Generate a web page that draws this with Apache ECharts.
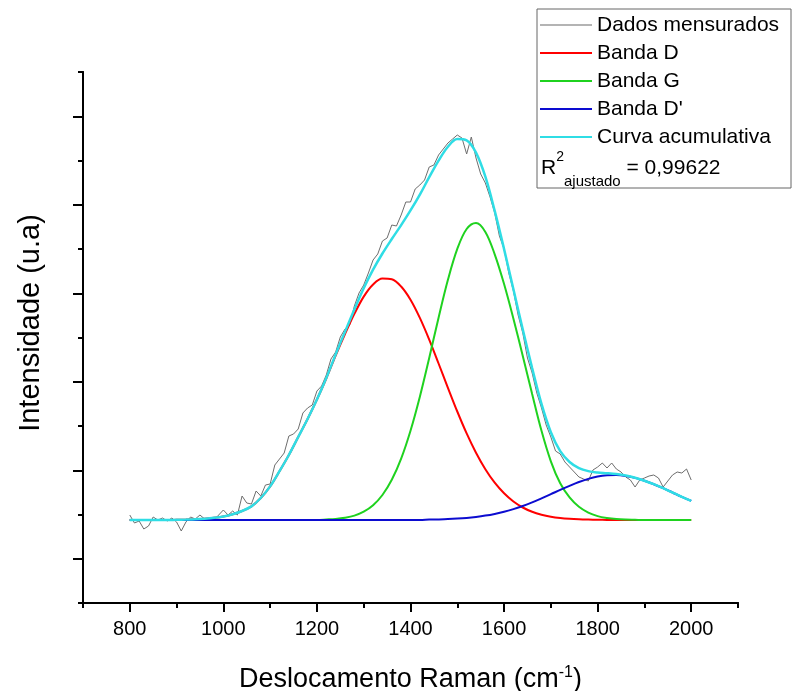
<!DOCTYPE html>
<html>
<head>
<meta charset="utf-8">
<script src="https://cdn.jsdelivr.net/npm/echarts@6/dist/echarts.min.js"></script>
<style>
html,body{margin:0;padding:0;background:#fff;}
#chart{width:794px;height:691px;}
</style>
</head>
<body>
<div id="chart"></div>
<script>
// Raman shift grid of the fitted bands (cm-1)
const bandShift = [800,820,840,860,880,900,920,940,960,980,1000,1020,1040,1060,1080,1100,1120,1140,1160,1180,1200,1220,1240,1260,1280,1300,1320,1340,1360,1380,1400,1420,1440,1460,1480,1500,1520,1540,1560,1580,1600,1620,1640,1660,1680,1700,1720,1740,1760,1780,1800,1820,1840,1860,1880,1900,1920,1940,1960,1980,2000];
// Banda D (red)
const bandD = [83.0,83.0,83.0,83.0,83.0,83.2,83.4,83.7,84.3,85.2,86.6,88.8,92.0,96.6,105.0,116.6,131.8,148.0,166.0,184.0,203.5,224.5,247.4,268.9,289.1,306.4,318.5,324.5,323.8,316.5,303.3,285.1,263.4,239.5,215.2,191.5,169.6,150.3,133.8,120.3,109.7,101.5,95.5,91.2,88.3,86.3,85.0,84.2,83.7,83.4,83.2,83.1,83.0,83.0,83.0,83.0,83.0,83.0,83.0,83.0,83.0];
// Banda G (green)
const bandG = [83.0,83.0,83.0,83.0,83.0,83.0,83.0,83.0,83.0,83.0,83.0,83.0,83.0,83.0,83.0,83.0,83.0,83.0,83.0,83.0,83.0,83.5,84.1,85.3,87.4,91.3,97.8,108.0,123.2,144.4,172.3,206.3,245.0,285.3,323.2,354.1,374.0,380.0,371.1,348.7,319.0,284.3,247.0,209.1,172.2,141.7,119.7,105.6,96.2,90.4,86.9,85.0,83.9,83.4,83.2,83.0,83.0,83.0,83.0,83.0,83.0];
// Banda D' (blue)
const bandD2 = [83.0,83.0,83.0,83.0,83.0,83.0,83.0,83.0,83.0,83.0,83.0,83.0,83.0,83.0,83.0,83.0,83.0,83.0,83.0,83.0,83.0,83.0,83.0,83.0,83.0,83.0,83.0,83.0,83.0,83.0,83.0,83.0,83.4,83.6,83.9,84.4,85.1,86.1,87.4,89.1,91.2,93.9,97.0,100.6,104.6,108.8,113.1,117.2,121.0,124.1,126.4,127.7,128.0,127.1,125.1,122.3,118.8,114.8,110.5,106.2,102.2];
// Curva acumulativa (cyan)
const cumulative = [83.0,83.0,83.0,83.0,83.0,83.2,83.4,83.7,84.3,85.2,86.6,88.8,92.0,96.6,105.0,116.6,131.8,148.0,166.0,184.0,203.5,225.0,248.5,271.2,293.5,314.7,333.3,349.5,364.0,377.9,392.6,408.4,425.8,442.4,456.3,464.0,462.7,450.4,426.3,392.1,353.9,313.7,273.5,234.9,199.1,170.8,151.8,141.0,134.9,131.9,130.5,129.8,128.9,127.5,125.3,122.3,118.8,114.8,110.5,106.2,102.2];
// Measured spectrum
const measuredShift = [800,810,820,830,840,850,860,870,880,890,900,910,920,930,940,950,960,970,980,990,1000,1010,1020,1030,1040,1050,1060,1070,1080,1090,1100,1110,1120,1130,1140,1150,1160,1170,1180,1190,1200,1210,1220,1230,1240,1250,1260,1270,1280,1290,1300,1310,1320,1330,1340,1350,1360,1370,1380,1390,1400,1410,1420,1430,1440,1450,1460,1470,1480,1490,1500,1510,1520,1530,1540,1550,1560,1570,1580,1590,1600,1610,1620,1630,1640,1650,1660,1670,1680,1690,1700,1710,1720,1730,1740,1750,1760,1770,1780,1790,1800,1810,1820,1830,1840,1850,1860,1870,1880,1890,1900,1910,1920,1930,1940,1950,1960,1970,1980,1990,2000];
const measured = [88,80,82,74,77,86,83,85,82,85,
  81,72,81,86,84,88,84,84,83,88,
  93,88,92,88,107,100,99,112,107,118,
  119,138,144,150,167,169,174,190,195,198,
  212,217,228,244,251,266,274,278,297,310,
  318,330,343,349,362,365,378,377,388,401,
  401,414,418,423,436,438,448,454,460,464,
  468,465,449,466,445,429,420,406,390,367,
  354,330,312,288,270,245,230,210,195,178,
  166,152,149,141,136,131,126,124,122,133,
  136,140,135,140,134,131,126,123,116,123,
  125,127,128,125,116,122,128,131,130,134,
  123];
// Axis ticks
const xTickLabels = [800,1000,1200,1400,1600,1800,2000];
const xMinorTicks = [700,900,1100,1300,1500,1700,1900,2100];
const yMajorTicks = [44.25,132.75,221.25,309.75,398.25,486.75];
const yMinorTicks = [0,88.5,177,265.5,354,442.5,531];

const seriesNames = ['Dados mensurados','Banda D','Banda G',"Banda D'",'Curva acumulativa'];
const seriesColors = ['#6e6e6e','#ff0000','#1fd21f','#0c0cd0','#2fdde5'];

const pairs = (xs, ys) => xs.map((x, i) => [x, ys[i]]);
const FONT = 'Liberation Sans, Arial, sans-serif';

const chart = echarts.init(document.getElementById('chart'), null, {renderer: 'canvas'});

const axisLineStyle = {color: '#000', width: 2};
const smoothLine = {showSymbol: false, symbol: 'none', smooth: 0.35, smoothConstraint: false};

chart.setOption({
  animation: false,
  backgroundColor: '#fff',
  grid: {left: 83, right: 56, top: 72, bottom: 88, containLabel: false, outerBoundsMode: 'none'},
  xAxis: [
    {
      type: 'value', min: 700, max: 2100,
      axisLine: {show: true, onZero: false, lineStyle: axisLineStyle},
      axisTick: {show: true, customValues: xTickLabels, length: 9, inside: false, lineStyle: {color: '#000', width: 2}},
      axisLabel: {show: true, customValues: xTickLabels, margin: 16, fontSize: 20, fontFamily: FONT, color: '#000',
                  formatter: v => String(v)},
      splitLine: {show: false},
      name: '{a|Deslocamento Raman (cm}{s|-1}{a|)}',
      nameLocation: 'middle', nameGap: 61,
      nameTextStyle: {
        rich: {
          a: {fontSize: 27, fontFamily: FONT, color: '#000', lineHeight: 32, verticalAlign: 'middle'},
          s: {fontSize: 16, fontFamily: FONT, color: '#000', padding: [0, 0, 15, 0], verticalAlign: 'middle'}
        }
      }
    },
    {
      type: 'value', min: 700, max: 2100, position: 'bottom',
      axisLine: {show: true, onZero: false, lineStyle: axisLineStyle},
      axisTick: {show: true, customValues: xMinorTicks, length: 5, lineStyle: {color: '#000', width: 2}},
      axisLabel: {show: false},
      splitLine: {show: false}
    }
  ],
  yAxis: [
    {
      type: 'value', min: 0, max: 531, position: 'left',
      axisLine: {show: true, onZero: false, lineStyle: axisLineStyle},
      axisTick: {show: true, customValues: yMajorTicks, length: 10, lineStyle: {color: '#000', width: 2}},
      axisLabel: {show: false},
      splitLine: {show: false},
      name: 'Intensidade (u.a)',
      nameLocation: 'middle', nameGap: 38,
      nameTextStyle: {fontSize: 29, fontFamily: FONT, color: '#000', padding: [0, 0, 0, 29]}
    },
    {
      type: 'value', min: 0, max: 531, position: 'left',
      axisLine: {show: true, onZero: false, lineStyle: axisLineStyle},
      axisTick: {show: true, customValues: yMinorTicks, length: 5, lineStyle: {color: '#000', width: 2}},
      axisLabel: {show: false},
      splitLine: {show: false}
    }
  ],
  legend: {
    orient: 'vertical', left: 540, top: 11, padding: 0, itemGap: 0,
    itemWidth: 52, itemHeight: 2, icon: 'rect', selectedMode: false, z: 10,
    textStyle: {fontSize: 21, fontFamily: FONT, color: '#000', lineHeight: 28},
    data: seriesNames.map((n, i) => ({name: n, itemStyle: {color: i === 0 ? '#b4b4b4' : seriesColors[i]}}))
  },
  graphic: [
    {
      type: 'rect', z: 1,
      shape: {x: 537, y: 9, width: 254, height: 179},
      style: {fill: '#fff', stroke: '#666', lineWidth: 1}
    },
    {
      type: 'text', z: 10, left: 541, top: 150,
      style: {
        text: '{r|R}{sup|2}{sub|ajustado}{r| = 0,99622}',
        rich: {
          r: {fontSize: 21, fontFamily: FONT, fill: '#000', lineHeight: 24, verticalAlign: 'middle'},
          sup: {fontSize: 14, fontFamily: FONT, fill: '#000', padding: [0, 0, 22, 0], verticalAlign: 'middle'},
          sub: {fontSize: 15, fontFamily: FONT, fill: '#000', padding: [27, 0, 0, 0], verticalAlign: 'middle'}
        }
      }
    }
  ],
  series: [
    {name: seriesNames[0], type: 'line', data: pairs(measuredShift, measured), showSymbol: false, symbol: 'none',
     lineStyle: {color: seriesColors[0], width: 1}, itemStyle: {color: seriesColors[0]}, z: 2},
    Object.assign({name: seriesNames[1], type: 'line', data: pairs(bandShift, bandD),
     lineStyle: {color: seriesColors[1], width: 2}, itemStyle: {color: seriesColors[1]}, z: 3}, smoothLine),
    Object.assign({name: seriesNames[2], type: 'line', data: pairs(bandShift, bandG),
     lineStyle: {color: seriesColors[2], width: 2}, itemStyle: {color: seriesColors[2]}, z: 4}, smoothLine),
    Object.assign({name: seriesNames[3], type: 'line', data: pairs(bandShift, bandD2),
     lineStyle: {color: seriesColors[3], width: 2}, itemStyle: {color: seriesColors[3]}, z: 5}, smoothLine),
    Object.assign({name: seriesNames[4], type: 'line', data: pairs(bandShift, cumulative),
     lineStyle: {color: seriesColors[4], width: 2.5}, itemStyle: {color: seriesColors[4]}, z: 6}, smoothLine)
  ]
});
</script>
</body>
</html>
